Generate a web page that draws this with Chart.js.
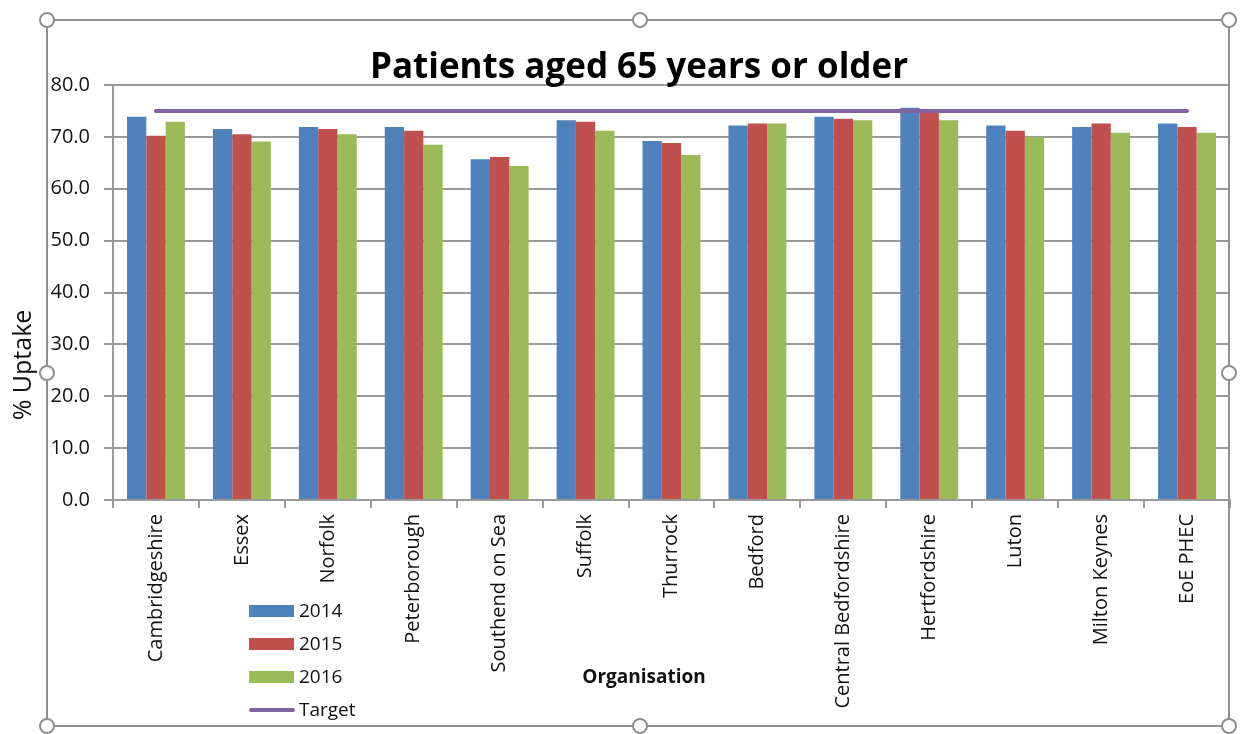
<!DOCTYPE html>
<html>
<head>
<meta charset="utf-8">
<script src="https://cdn.jsdelivr.net/npm/chart.js@4.4.1/dist/chart.umd.min.js"></script>
<style>
  html, body { margin: 0; padding: 0; background: #ffffff; }
  #wrap { position: relative; width: 1241px; height: 734px; }
  canvas { display: block; }
</style>
</head>
<body>
<div id="wrap"><canvas id="c" width="1241" height="734"></canvas></div>
<script>
// ---- data ----
const chartTitle = 'Patients aged 65 years or older';
const xAxisTitle = 'Organisation';
const yAxisTitle = '% Uptake';
const categories = ['Cambridgeshire', 'Essex', 'Norfolk', 'Peterborough', 'Southend on Sea', 'Suffolk', 'Thurrock', 'Bedford', 'Central Bedfordshire', 'Hertfordshire', 'Luton', 'Milton Keynes', 'EoE PHEC'];
const seriesNames = ['2014', '2015', '2016', 'Target'];
const uptake2014 = [73.9, 71.5, 71.9, 71.9, 65.7, 73.2, 69.2, 72.2, 73.9, 75.6, 72.2, 71.9, 72.6];
const uptake2015 = [70.2, 70.5, 71.5, 71.2, 66.1, 72.9, 68.8, 72.6, 73.5, 74.8, 71.2, 72.6, 71.9];
const uptake2016 = [72.9, 69.1, 70.5, 68.5, 64.4, 71.2, 66.5, 72.6, 73.2, 73.2, 70.0, 70.8, 70.8];
const target = [75, 75, 75, 75, 75, 75, 75, 75, 75, 75, 75, 75, 75];
const yTicks = [0, 10, 20, 30, 40, 50, 60, 70, 80];

// ---- styles ----
const FONT = "'Open Sans', 'Noto Sans', sans-serif";
const colors = ['#4F81BD', '#C0504D', '#9BBB59', '#8064A2'];
const gridColor = '#9a9a9a';
const textColor = '#111111';

const decorPlugin = {
  id: 'decor',
  afterDraw(chart) {
    const ctx = chart.ctx;
    ctx.save();
    // Chart title
    ctx.font = 'bold 35px ' + FONT;
    ctx.fillStyle = '#000';
    ctx.textAlign = 'center';
    ctx.textBaseline = 'alphabetic';
    ctx.fillText(chartTitle, 639, 78);

    // Y axis title
    ctx.save();
    ctx.translate(24, 365);
    ctx.rotate(-Math.PI / 2);
    ctx.font = '25px ' + FONT;
    ctx.fillStyle = textColor;
    ctx.textAlign = 'center';
    ctx.textBaseline = 'middle';
    ctx.fillText(yAxisTitle, 0, 0);
    ctx.restore();

    // X axis title
    ctx.font = 'bold 19px ' + FONT;
    ctx.fillStyle = textColor;
    ctx.textAlign = 'center';
    ctx.textBaseline = 'middle';
    ctx.fillText(xAxisTitle, 644, 678);

    // Legend
    const rowsY = [611, 644, 677, 710];
    ctx.font = '19px ' + FONT;
    ctx.textAlign = 'left';
    ctx.textBaseline = 'middle';
    chart.data.datasets.forEach((ds, i) => {
      const y = rowsY[i];
      if (ds.type === 'line') {
        ctx.strokeStyle = ds.borderColor;
        ctx.lineWidth = 4;
        ctx.lineCap = 'round';
        ctx.beginPath();
        ctx.moveTo(251, y);
        ctx.lineTo(293, y);
        ctx.stroke();
      } else {
        ctx.fillStyle = ds.backgroundColor;
        ctx.fillRect(249, y - 6, 45, 12);
      }
      ctx.fillStyle = textColor;
      ctx.fillText(ds.label, 299, y + 1);
    });

    // Selection frame with handles
    const L = 47, T = 20, R = 1229, B = 726;
    ctx.strokeStyle = '#8f8f8f';
    ctx.lineWidth = 2;
    ctx.lineCap = 'butt';
    ctx.strokeRect(L, T, R - L, B - T);
    const mx = 640, my = 373;
    const handles = [[L, T], [mx, T], [R, T], [L, my], [R, my], [L, B], [mx, B], [R, B]];
    handles.forEach(([hx, hy]) => {
      ctx.beginPath();
      ctx.arc(hx, hy, 7, 0, Math.PI * 2);
      ctx.fillStyle = '#ffffff';
      ctx.fill();
      ctx.stroke();
    });
    ctx.restore();
  }
};

const barSets = [uptake2014, uptake2015, uptake2016];
const datasets = barSets.map((vals, i) => ({
  type: 'bar',
  label: seriesNames[i],
  data: vals,
  backgroundColor: colors[i],
  borderWidth: 0,
  barPercentage: 1.0,
  categoryPercentage: 0.674,
  order: 1
}));
datasets.push({
  type: 'line',
  label: seriesNames[3],
  data: target,
  borderColor: colors[3],
  backgroundColor: colors[3],
  borderWidth: 4,
  borderCapStyle: 'round',
  pointRadius: 0,
  fill: false,
  tension: 0,
  order: 0
});

new Chart(document.getElementById('c'), {
  data: { labels: categories, datasets },
  options: {
    responsive: false,
    animation: false,
    devicePixelRatio: 1,
    layout: { padding: { top: 85, left: 0, right: 11, bottom: 0 } },
    plugins: {
      legend: { display: false },
      title: { display: false },
      tooltip: { enabled: false }
    },
    scales: {
      x: {
        type: 'category',
        offset: true,
        afterFit(scale) { scale.height = 234; },
        grid: {
          display: true,
          offset: true,
          drawOnChartArea: false,
          drawTicks: true,
          tickLength: 8,
          color: gridColor,
          lineWidth: 2
        },
        border: { display: true, color: gridColor, width: 2 },
        ticks: {
          autoSkip: false,
          maxRotation: 90,
          minRotation: 90,
          padding: 6,
          color: textColor,
          font: { family: FONT, size: 20 }
        }
      },
      y: {
        min: yTicks[0],
        max: yTicks[yTicks.length - 1],
        afterFit(scale) { scale.width = 113; },
        afterBuildTicks(scale) { scale.ticks = yTicks.map(v => ({ value: v })); },
        grid: {
          color: gridColor,
          lineWidth: 2,
          drawTicks: true,
          tickLength: 9
        },
        border: { display: true, color: gridColor, width: 2 },
        ticks: {
          padding: 14,
          color: textColor,
          font: { family: FONT, size: 20 },
          callback: (v) => Number(v).toFixed(1)
        },
        title: { display: false }
      }
    }
  },
  plugins: [decorPlugin]
});
</script>
</body>
</html>
